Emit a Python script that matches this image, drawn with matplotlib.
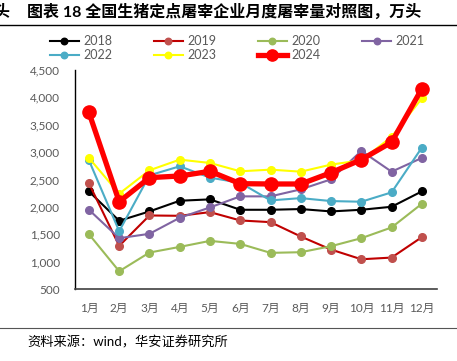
import matplotlib
matplotlib.use("Agg")
import matplotlib.pyplot as plt
from matplotlib.lines import Line2D

months = ["1月", "2月", "3月", "4月", "5月", "6月", "7月", "8月", "9月", "10月", "11月", "12月"]
y2018 = [2283, 1746, 1917, 2112, 2137, 1947, 1947, 1960, 1917, 1947, 2002, 2283]
y2019 = [2430, 1288, 1843, 1837, 1904, 1752, 1721, 1459, 1220, 1043, 1074, 1447]
y2020 = [1501, 824, 1166, 1269, 1379, 1324, 1160, 1172, 1282, 1428, 1624, 2057]
y2021 = [1947, 1428, 1508, 1801, 1990, 2192, 2192, 2320, 2503, 3022, 2643, 2894]
y2022 = [2851, 1556, 2576, 2741, 2534, 2440, 2118, 2160, 2106, 2094, 2265, 3083]
y2023 = [2894, 2240, 2668, 2863, 2802, 2650, 2680, 2643, 2772, 2851, 3279, 3981]
y2024 = [3724, 2094, 2534, 2564, 2650, 2424, 2418, 2418, 2625, 2863, 3181, 4158]
yticks = [500, 1000, 1500, 2000, 2500, 3000, 3500, 4000, 4500]

plt.rcParams['font.family'] = ['Lato', 'Noto Sans CJK SC', 'DejaVu Sans']

fig = plt.figure(figsize=(4.57, 3.61), dpi=100)
ax = fig.add_axes([75/457, 1-289/361, (437-75)/457, (289-70)/361])

x = list(range(len(months)))
series = [
    ("2018", y2018, "#000000", "#000000", 1.5, 5.5),
    ("2019", y2019, "#C00000", "#C0504D", 1.5, 5.5),
    ("2020", y2020, "#9BBB59", "#9BBB59", 1.5, 5.5),
    ("2021", y2021, "#8064A2", "#8064A2", 1.5, 5.5),
    ("2022", y2022, "#4BACC6", "#4BACC6", 1.5, 5.5),
    ("2023", y2023, "#FFFF00", "#FFFF00", 1.5, 5.5),
    ("2024", y2024, "#FF0000", "#FF0000", 3.8, 9.5),
]
handles = {}
for name, vals, lc, mc, lw, ms in series:
    ax.plot(x, vals, color=lc, lw=lw, marker='o', ms=ms, mfc=mc, mec=mc, zorder=3)
    handles[name] = Line2D([0], [0], color=lc, lw=lw, marker='o', ms=ms*0.85, mfc=mc, mec=mc)

ax.set_xlim(-0.46, 11.5)
ax.set_ylim(500, 4500)
ax.set_yticks(yticks)
ax.set_yticklabels([f"{v:,}" for v in yticks])
ax.set_xticks(x)
ax.set_xticklabels(months)
ax.tick_params(length=0, labelsize=8.5, colors="#595959")
ax.tick_params(axis='y', pad=11)
ax.tick_params(axis='x', pad=10)
for s in ["top", "right"]:
    ax.spines[s].set_visible(False)
ax.spines["left"].set_color("#000000")
ax.spines["bottom"].set_color("#404040")
ax.spines["left"].set_linewidth(1.0)
ax.spines["bottom"].set_linewidth(1.2)

order = ["2018", "2022", "2019", "2023", "2020", "2024", "2021"]
leg = fig.legend([handles[k] for k in order], order, ncol=4, loc='upper left',
                 bbox_to_anchor=(50/457, 1-35/361), frameon=False, fontsize=9,
                 handlelength=2.3, columnspacing=3.3, handletextpad=0.4,
                 labelspacing=0.15, borderaxespad=0, borderpad=0)
for t in leg.get_texts():
    t.set_color("#595959")

fig.text(27/457, 1-12/361, "图表 18 全国生猪定点屠宰企业月度屠宰量对照图，万头",
         fontsize=11.5, fontweight='bold', va='center', ha='left', color="#000000")
fig.text(-7/457, 1-12/361, "头", fontsize=11.5, fontweight='bold', va='center', ha='left')
fig.add_artist(Line2D([0, 1], [1-24.5/361, 1-24.5/361], color="#000000", lw=1.0))
fig.add_artist(Line2D([0, 1], [1-327.5/361, 1-327.5/361], color="#555555", lw=0.8))
fig.text(27/457, 1-342/361, "资料来源：wind，华安证券研究所", fontsize=9.5,
         va='center', ha='left', color="#000000")

fig.savefig("out.png", dpi=100)
